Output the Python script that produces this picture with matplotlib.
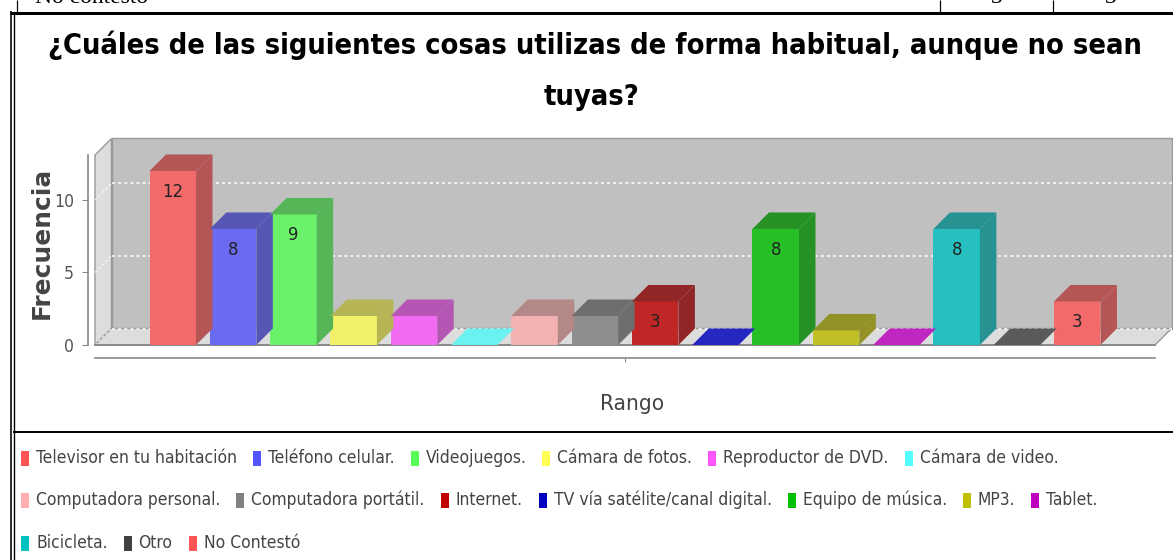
import matplotlib
matplotlib.use("Agg")
import matplotlib.pyplot as plt
from matplotlib import font_manager as fm
from matplotlib.patches import Polygon, Rectangle
from matplotlib.lines import Line2D
from matplotlib.colors import to_rgb

# ---------------- data ----------------
categories = ["Televisor en tu habitación", "Teléfono celular.", "Videojuegos.",
              "Cámara de fotos.", "Reproductor de DVD.", "Cámara de video.",
              "Computadora personal.", "Computadora portátil.", "Internet.",
              "TV vía satélite/canal digital.", "Equipo de música.", "MP3.", "Tablet.",
              "Bicicleta.", "Otro", "No Contestó"]
values = [12, 8, 9, 2, 2, 0, 2, 2, 3, 0, 8, 1, 0, 8, 0, 3]
colors = ["#FF5555", "#5555FF", "#55FF55", "#FFFF55", "#FF55FF", "#55FFFF",
          "#FFAFAF", "#808080", "#C00000", "#0000C0", "#00C000", "#C0C000",
          "#C000C0", "#00C0C0", "#404040", "#FF5555"]
yticks = [0, 5, 10]
title_lines = ["¿Cuáles de las siguientes cosas utilizas de forma habitual, aunque no sean",
               "tuyas?"]
y_label = "Frecuencia"
x_label = "Rango"
legend_rows = [[0, 1, 2, 3, 4, 5], [6, 7, 8, 9, 10, 11, 12], [13, 14, 15]]
table_text = "No contesto"
table_nums = ["3", "3"]

# ---------------- fonts ----------------
names = {f.name for f in fm.fontManager.ttflist}
if "Liberation Sans Narrow" in names:
    NARROW = ["Liberation Sans Narrow", "DejaVu Sans"]
    STRETCH = "normal"
else:
    NARROW = ["DejaVu Sans"]
    STRETCH = "condensed"
SERIF = ["Liberation Serif", "DejaVu Serif"]

W, H = 1173, 560
fig = plt.figure(figsize=(W / 100, H / 100), dpi=100)
fig.patch.set_facecolor("white")
fig.canvas.draw()
renderer = fig.canvas.get_renderer()


def fx(px):
    return px / W


def fy(py):
    return 1 - py / H


def fline(x0, y0, x1, y1, lw_px, color="black"):
    fig.add_artist(Line2D([fx(x0), fx(x1)], [fy(y0), fy(y1)], transform=fig.transFigure,
                          color=color, lw=lw_px * 0.72, solid_capstyle="butt"))


def fit_size(text, target_px, base=20, rotation=0, **kw):
    t = fig.text(0.5, 0.5, text, fontsize=base, rotation=rotation, **kw)
    bb = t.get_window_extent(renderer)
    t.remove()
    length = bb.height if rotation == 90 else bb.width
    return base * target_px / length


# ---------------- top table fragment & borders ----------------
fline(17, 0, 17, 12, 1.2)
fline(940, 0, 940, 12, 1.2)
fline(1053, 0, 1053, 12, 1.2)
fig.text(fx(35), fy(3), table_text, family=SERIF, fontsize=17, va="baseline", ha="left")
fig.text(fx(997), fy(3), table_nums[0], family=SERIF, fontsize=17, va="baseline", ha="center")
fig.text(fx(1111), fy(3), table_nums[1], family=SERIF, fontsize=17, va="baseline", ha="center")
fline(10, 12.5, W, 12.5, 3)
fline(10.5, 11, 10.5, H, 1.6)
fline(13.5, 14, 13.5, H, 1.4)
fline(13, 432, W, 432, 2)

# ---------------- title ----------------
title_kw = dict(family=NARROW, fontstretch=STRETCH, fontweight="bold")
ts = fit_size(title_lines[0], 1100, **title_kw)
fig.text(fx(595), fy(45), title_lines[0], fontsize=ts, ha="center", va="center",
         color="black", **title_kw)
fig.text(fx(591), fy(97), title_lines[1], fontsize=ts, ha="center", va="center",
         color="black", **title_kw)

# ---------------- plot area ----------------
AX_L, AX_R, AX_T, AX_B = 95, 1155, 155, 345
ax = fig.add_axes([fx(AX_L), fy(AX_B), (AX_R - AX_L) / W, (AX_B - AX_T) / H])
ax.patch.set_visible(False)
n = len(values)
xs = list(range(n))
xl, xr = -1.29, n - 1 + 1.29
ymax = 13.1
ax.set_xlim(xl, xr)
ax.set_ylim(0, ymax)

px_x = (xr - xl) / (AX_R - AX_L)   # data units per pixel (x)
px_y = ymax / (AX_B - AX_T)        # data units per pixel (y)
dx = 16.5 * px_x
dy = 16.5 * px_y
bw = 46.5 * px_x

wall_edge = "#999999"
ax.add_patch(Polygon([(xl + dx, dy), (xr + dx, dy), (xr + dx, ymax + dy), (xl + dx, ymax + dy)],
                     closed=True, facecolor="#C0C0C0", edgecolor=wall_edge, lw=1,
                     clip_on=False, zorder=0))
ax.add_patch(Polygon([(xl, 0), (xl + dx, dy), (xl + dx, ymax + dy), (xl, ymax)],
                     closed=True, facecolor="#DDDDDD", edgecolor=wall_edge, lw=1,
                     clip_on=False, zorder=0.5))
ax.add_patch(Polygon([(xl, 0), (xr, 0), (xr + dx, dy), (xl + dx, dy)],
                     closed=True, facecolor="#DDDDDD", edgecolor=wall_edge, lw=1,
                     clip_on=False, zorder=0.5))
for t in yticks:
    ax.plot([xl + dx, xr + dx], [t + dy, t + dy], color="white", lw=1.1,
            ls=(0, (2, 2)), clip_on=False, zorder=1)
    ax.plot([xl, xl + dx], [t, t + dy], color="white", lw=0.9,
            ls=(0, (2, 2)), clip_on=False, zorder=1, alpha=0.8)
ax.plot([xl, xr], [0, 0], color="#8A8A8A", lw=1.4, clip_on=False, zorder=1.5)

bg = to_rgb("#C0C0C0")
alpha = 0.8


def blend(c, factor=1.0):
    r = to_rgb(c)
    return tuple(alpha * (ch * factor) + (1 - alpha) * b for ch, b in zip(r, bg))


front_cols = [blend(c) for c in colors]
dark_cols = [blend(c, 0.7) for c in colors]

lab_size = fit_size("12", 21, family=NARROW, fontstretch=STRETCH)
ax.bar(xs, values, width=bw, color=front_cols, linewidth=0, zorder=3, clip_on=False)
for x, v, fc, dc in zip(xs, values, front_cols, dark_cols):
    x0, x1 = x - bw / 2, x + bw / 2
    top_col = dc if v > 0 else fc
    if v > 0:
        ax.add_patch(Polygon([(x1, 0), (x1 + dx, dy), (x1 + dx, v + dy), (x1, v)],
                             closed=True, facecolor=dc, lw=0, clip_on=False, zorder=3))
    ax.add_patch(Polygon([(x0, v), (x1, v), (x1 + dx, v + dy), (x0 + dx, v + dy)],
                         closed=True, facecolor=top_col, lw=0, clip_on=False, zorder=3))
    if v >= 3:
        ax.annotate(str(v), (x, v), xytext=(0, -21), textcoords="offset pixels",
                    ha="center", va="center", fontsize=lab_size, color="#222222",
                    family=NARROW, fontstretch=STRETCH, zorder=4)

for s in ("top", "right"):
    ax.spines[s].set_visible(False)
ax.spines["left"].set_position(("outward", 5))
ax.spines["bottom"].set_position(("outward", 9))
for s in ("left", "bottom"):
    ax.spines[s].set_color("#888888")
    ax.spines[s].set_linewidth(1.2)
tick_size = fit_size("10", 20, family=NARROW, fontstretch=STRETCH)
ax.set_yticks(yticks)
ax.set_yticklabels([str(t) for t in yticks], family=NARROW, fontstretch=STRETCH,
                   fontsize=tick_size, color="#555555")
ax.tick_params(axis="y", length=4, color="#888888", pad=6)
ax.set_xticks([(xs[0] + xs[-1]) / 2])
ax.set_xticklabels([""])
ax.tick_params(axis="x", length=3, color="#888888")

ylab_kw = dict(fontweight="bold", family=["DejaVu Sans"])
ylab_size = fit_size(y_label, 152, rotation=90, **ylab_kw)
fig.text(fx(42), fy(243), y_label, rotation=90, ha="center", va="center",
         fontsize=ylab_size, color="#444444", **ylab_kw)
xlab_size = fit_size(x_label, 64, family=NARROW, fontstretch=STRETCH)
fig.text(fx(632), fy(404), x_label, ha="center", va="center", fontsize=xlab_size,
         color="#444444", family=NARROW, fontstretch=STRETCH)

# ---------------- legend ----------------
leg_size = 0.978 * fit_size(categories[0], 205, family=NARROW, fontstretch=STRETCH)
row_y = [458, 500, 543]
sq_w, sq_h = 8, 15
for row, yc in zip(legend_rows, row_y):
    x = 21
    for i in row:
        fig.add_artist(Rectangle((fx(x), fy(yc + sq_h / 2)), sq_w / W, sq_h / H,
                                 transform=fig.transFigure, facecolor=colors[i],
                                 edgecolor="none"))
        t = fig.text(fx(x + sq_w + 7), fy(yc), categories[i], ha="left", va="center",
                     fontsize=leg_size, color="#444444", family=NARROW, fontstretch=STRETCH)
        bb = t.get_window_extent(renderer)
        x = x + sq_w + 7 + bb.width + 16

fig.savefig("out.png", dpi=100)
